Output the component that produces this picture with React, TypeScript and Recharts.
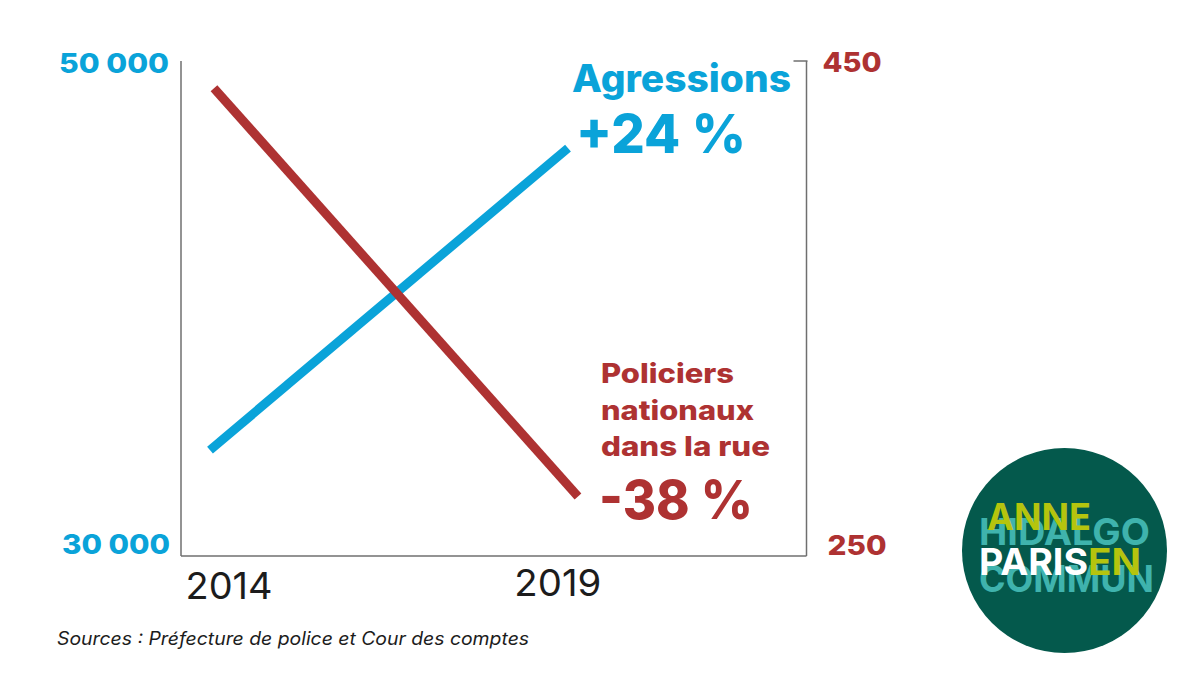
import { Line, LineChart, XAxis, YAxis } from "recharts";

const years = [2014, 2019];
const agressions = [34280, 46480];
const policiers = [439, 274];
const leftTicks = [30000, 50000];
const rightTicks = [250, 450];
const leftTickLabels = ["30 000", "50 000"];

const rows = years.map((year, i) => ({
  year,
  agressions: agressions[i],
  policiers: policiers[i],
}));

const BLUE = "#0aa3d9";
const RED = "#ae3232";
const AXIS = "#6f6f6f";
const FONT = "Inter, sans-serif";
const FIT = "spacingAndGlyphs";

function LeftTick({ x, y, payload }: any) {
  const isTop = payload.value === 50000;
  return (
    <text
      x={isTop ? x - 4 : x - 3}
      y={isTop ? y + 12 : y - 2}
      textAnchor="end"
      fontFamily={FONT}
      fontSize={27}
      fontWeight={800}
      fill={BLUE}
      textLength={isTop ? 110 : 108}
      lengthAdjust={FIT}
    >
      {leftTickLabels[leftTicks.indexOf(payload.value)]}
    </text>
  );
}

function RightTick({ x, y, payload }: any) {
  const isTop = payload.value === 450;
  return (
    <g>
      {isTop && <line x1={x - 21} x2={x - 7} y1={y} y2={y} stroke={AXIS} strokeWidth={1.5} />}
      <text
        x={isTop ? x + 8 : x + 13}
        y={isTop ? y + 11 : y - 1}
        fontFamily={FONT}
        fontSize={27}
        fontWeight={800}
        fill={RED}
        textLength={59}
        lengthAdjust={FIT}
      >
        {payload.value}
      </text>
    </g>
  );
}

function YearTick({ x, y, payload }: any) {
  return (
    <text
      x={x}
      y={payload.value === 2014 ? y + 35 : y + 32}
      textAnchor="middle"
      fontFamily={FONT}
      fontSize={37}
      fill="#1c1c1c"
      textLength={87}
      lengthAdjust={FIT}
    >
      {payload.value}
    </text>
  );
}

function Notes() {
  return (
    <svg width={1200} height={675} style={{ position: "absolute", left: 0, top: 0 }} fontFamily={FONT}>
      <text x={572} y={92} fontSize={38} fontWeight={800} fill={BLUE} textLength={219} lengthAdjust={FIT}>Agressions</text>
      <text x={576} y={153} fontSize={54} fontWeight={800} fill={BLUE} textLength={170} lengthAdjust={FIT}>+24 %</text>
      <text x={601} y={383} fontSize={27} fontWeight={800} fill={RED} textLength={133} lengthAdjust={FIT}>Policiers</text>
      <text x={601} y={420} fontSize={27} fontWeight={800} fill={RED} textLength={153} lengthAdjust={FIT}>nationaux</text>
      <text x={601} y={456} fontSize={27} fontWeight={800} fill={RED} textLength={169} lengthAdjust={FIT}>dans la rue</text>
      <text x={599} y={519} fontSize={54} fontWeight={800} fill={RED} textLength={154} lengthAdjust={FIT}>-38 %</text>
      <text x={57} y={645} fontSize={18} fontStyle="italic" fill="#1c1c1c" textLength={472} lengthAdjust={FIT}>
        Sources : Préfecture de police et Cour des comptes
      </text>

      <circle cx={1064.5} cy={550.5} r={102.5} fill="#04594c" />
      <g fontWeight={700} fontSize={37}>
        <text x={979} y={545} fill="#3fb3ad" textLength={171} lengthAdjust={FIT}>HIDALGO</text>
        <text x={979} y={592} fill="#3fb3ad" textLength={175} lengthAdjust={FIT}>COMMUN</text>
        <text x={987} y={530} fill="#b5c40e" textLength={104} lengthAdjust={FIT}>ANNE</text>
        <text x={1088} y={575} fill="#b5c40e" textLength={53} lengthAdjust={FIT}>EN</text>
        <text x={979} y={575} fill="#ffffff" textLength={109} lengthAdjust={FIT}>PARIS</text>
      </g>
    </svg>
  );
}

export default function App() {
  return (
    <div style={{ position: "absolute", left: 0, top: 0, width: 1200, height: 675, background: "#fff", overflow: "hidden" }}>
      <LineChart width={1200} height={675} data={rows} margin={{ top: 61, right: 0, bottom: 0, left: 0 }}>
        <XAxis xAxisId="blue" dataKey="year" type="number" domain={[2013.595, 2022.331]} height={0} hide allowDataOverflow />
        <XAxis xAxisId="red" dataKey="year" type="number" domain={[2013.547, 2022.139]} height={0} hide allowDataOverflow />
        <XAxis
          xAxisId="labels"
          dataKey="year"
          type="number"
          domain={[2013.27, 2022.78]}
          ticks={years}
          interval={0}
          height={119}
          axisLine={{ stroke: AXIS, strokeWidth: 1.5 }}
          tickLine={false}
          tick={YearTick}
          allowDataOverflow
        />
        <YAxis
          yAxisId="left"
          domain={[30000, 50000]}
          ticks={leftTicks}
          interval={0}
          width={181}
          axisLine={{ stroke: AXIS, strokeWidth: 1.5 }}
          tickLine={false}
          tick={LeftTick}
        />
        <YAxis
          yAxisId="right"
          orientation="right"
          domain={[250, 450]}
          ticks={rightTicks}
          interval={0}
          width={393.5}
          axisLine={{ stroke: AXIS, strokeWidth: 1.5 }}
          tickLine={false}
          tick={RightTick}
        />
        <Line
          xAxisId="blue"
          yAxisId="left"
          dataKey="agressions"
          stroke={BLUE}
          strokeWidth={9}
          strokeLinecap="butt"
          dot={false}
          isAnimationActive={false}
        />
        <Line
          xAxisId="red"
          yAxisId="right"
          dataKey="policiers"
          stroke={RED}
          strokeWidth={9}
          strokeLinecap="butt"
          dot={false}
          isAnimationActive={false}
        />
      </LineChart>
      <Notes />
    </div>
  );
}
